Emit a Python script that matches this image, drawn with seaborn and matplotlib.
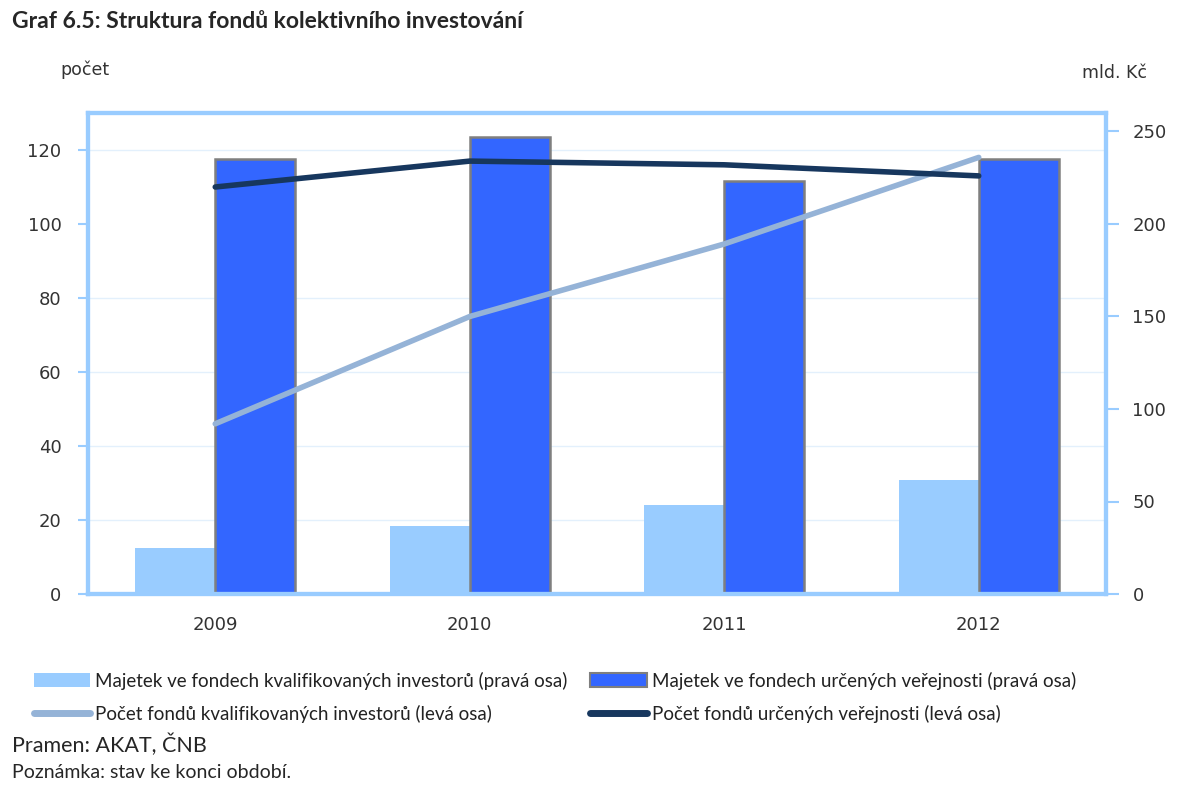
import numpy as np
import pandas as pd
import seaborn as sns
import matplotlib.pyplot as plt
from matplotlib.patches import Patch
from matplotlib.lines import Line2D
from matplotlib.ticker import MultipleLocator, FixedLocator

# data
years = ['2009', '2010', '2011', '2012']
majetek_kval = [24.8, 36.7, 48.0, 61.5]        # mld. Kc (right axis)
majetek_verej = [235.0, 247.0, 223.5, 235.4]   # mld. Kc (right axis)
pocet_kval = [46, 75, 94.6, 118]               # count (left axis)
pocet_verej = [110, 117, 116, 113]             # count (left axis)

bar_labels = ['Majetek ve fondech kvalifikovaných investorů (pravá osa)',
              'Majetek ve fondech určených veřejnosti (pravá osa)']
line_labels = ['Počet fondů kvalifikovaných investorů (levá osa)',
               'Počet fondů určených veřejnosti (levá osa)']

c_bar_light = '#99CCFF'
c_bar_dark = '#3366FF'
c_line_light = '#95B3D7'
c_line_dark = '#17375E'
frame = '#99CCFF'
tick_font = ['DejaVu Sans']

bars = pd.DataFrame({
    'rok': years * 2,
    'serie': [bar_labels[0]] * 4 + [bar_labels[1]] * 4,
    'hodnota': majetek_kval + majetek_verej,
})
lines = pd.DataFrame({
    'rok': years * 2,
    'serie': [line_labels[0]] * 4 + [line_labels[1]] * 4,
    'hodnota': pocet_kval + pocet_verej,
})

sns.set_style('white')
plt.rcParams['font.family'] = ['Lato', 'DejaVu Sans']

fig = plt.figure(figsize=(11.85, 7.87), dpi=100)
ax = fig.add_axes([88 / 1185, 1 - 594 / 787, (1106 - 88) / 1185, (594 - 113) / 787])

# bars on the right-hand axis
sns.barplot(data=bars, x='rok', y='hodnota', hue='serie',
            palette=[c_bar_light, c_bar_dark], width=0.63, saturation=1,
            linewidth=0, legend=False, ax=ax)
for p in ax.containers[1]:
    p.set_edgecolor('#7F7F7F')
    p.set_linewidth(1.8)

# lines on the left-hand axis
ax2 = ax.twinx()
sns.pointplot(data=lines, x='rok', y='hodnota', hue='serie',
              palette=[c_line_light, c_line_dark], markers='', errorbar=None,
              linewidth=4, legend=False, ax=ax2)
for ln in ax2.lines:
    ln.set_solid_capstyle('round')

ax.set_ylim(0, 260)
ax.set_xlim(-0.5, 3.5)
ax.yaxis.tick_right()
ax.yaxis.set_label_position('right')
ax.yaxis.set_major_locator(MultipleLocator(50))
ax.yaxis.set_minor_locator(FixedLocator(np.arange(40, 260, 40)))
ax.grid(which='minor', axis='y', color='#E3F0FC', linewidth=1)
ax.set_axisbelow(True)
ax.tick_params(axis='y', which='minor', length=0, left=False, right=False)
ax.tick_params(axis='y', which='major', direction='out', length=9, width=1.5,
               color=frame, labelsize=13, labelcolor='#333333', pad=10)
ax.set_xlabel('')
ax.set_ylabel('')

ax2.set_ylim(0, 130)
ax2.set_xlim(-0.5, 3.5)
ax2.yaxis.tick_left()
ax2.yaxis.set_label_position('left')
ax2.yaxis.set_major_locator(MultipleLocator(20))
ax2.tick_params(axis='y', direction='out', length=7, width=1.5, color=frame,
                labelsize=13, labelcolor='#333333', pad=12)
ax2.set_xlabel('')
ax2.set_ylabel('')

for a in (ax, ax2):
    for s in a.spines.values():
        s.set_color(frame)
        s.set_linewidth(3)
        s.set_visible(True)

ax.set_xticks(range(len(years)))
ax.set_xticklabels(years)
ax.xaxis.set_minor_locator(FixedLocator(np.arange(-0.5, 4, 1)))
ax.tick_params(axis='x', which='major', length=0, labelsize=13,
               labelcolor='#333333', pad=16)
ax.tick_params(axis='x', which='minor', direction='out', length=7, width=1.5,
               color=frame)
ax2.tick_params(axis='x', which='both', length=0)

for t in ax.get_xticklabels() + ax.get_yticklabels() + ax2.get_yticklabels():
    t.set_family(tick_font)

# legend
handles = [
    Patch(facecolor=c_bar_light, edgecolor='none'),
    Line2D([], [], color=c_line_light, linewidth=5),
    Patch(facecolor=c_bar_dark, edgecolor='#7F7F7F', linewidth=1.5),
    Line2D([], [], color=c_line_dark, linewidth=5),
]
labels = [bar_labels[0], line_labels[0], bar_labels[1], line_labels[1]]
leg = fig.legend(handles, labels, ncol=2, loc='upper left',
                 bbox_to_anchor=(26 / 1185, 1 - 664 / 787), frameon=False,
                 fontsize=13.5, handlelength=3.0, handleheight=0.8,
                 handletextpad=0.3, columnspacing=1.2, labelspacing=0.8,
                 borderaxespad=0)
for t in leg.get_texts():
    t.set_color('#222222')

# titles and notes
fig.text(12 / 1185, 1 - 22 / 787, 'Graf 6.5: Struktura fondů kolektivního investování',
         fontsize=16.5, fontweight='bold', va='center', ha='left')
fig.text(60 / 1185, 1 - 70 / 787, 'počet', fontsize=12.5, color='#333333',
         va='center', ha='left', family=tick_font)
fig.text(1147 / 1185, 1 - 73 / 787, 'mld. Kč', fontsize=12.5, color='#333333',
         va='center', ha='right', family=tick_font)
fig.text(12 / 1185, 1 - 745 / 787, 'Pramen: AKAT, ČNB', fontsize=15.5,
         va='center', ha='left')
fig.text(12 / 1185, 1 - 772 / 787, 'Poznámka: stav ke konci období.', fontsize=14,
         va='center', ha='left')

fig.savefig('out.png', dpi=100)
